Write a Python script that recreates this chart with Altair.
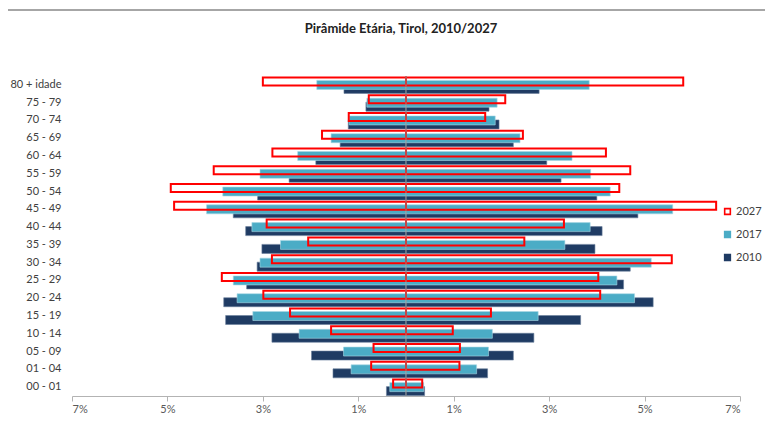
import altair as alt
import pandas as pd

ages = ["80 + idade", "75 - 79", "70 - 74", "65 - 69", "60 - 64", "55 - 59",
        "50 - 54", "45 - 49", "40 - 44", "35 - 39", "30 - 34", "25 - 29",
        "20 - 24", "15 - 19", "10 - 14", "05 - 09", "01 - 04", "00 - 01"]
series = ["2027", "2017", "2010"]

# left side (percent of population)
left_2010 = [1.30, 0.84, 1.21, 1.38, 1.89, 2.45, 3.11, 3.62, 3.36, 3.02, 3.12, 3.34, 3.82, 3.78, 2.81, 1.98, 1.53, 0.41]
left_2017 = [1.87, 0.82, 1.19, 1.57, 2.27, 3.06, 3.84, 4.18, 3.23, 2.63, 3.06, 3.62, 3.54, 3.21, 2.24, 1.31, 1.15, 0.34]
left_2027 = [3.00, 0.78, 1.20, 1.76, 2.80, 4.03, 4.93, 4.86, 2.92, 2.05, 2.81, 3.86, 2.99, 2.43, 1.57, 0.68, 0.73, 0.27]
# right side
right_2010 = [2.79, 1.74, 1.95, 2.25, 2.95, 3.25, 4.00, 4.86, 4.11, 3.96, 4.70, 4.56, 5.18, 3.66, 2.68, 2.25, 1.71, 0.39]
right_2017 = [3.84, 1.91, 1.87, 2.39, 3.48, 3.87, 4.28, 5.59, 3.86, 3.33, 5.14, 4.42, 4.79, 2.77, 1.81, 1.73, 1.48, 0.37]
right_2027 = [5.81, 2.08, 1.66, 2.45, 4.19, 4.70, 4.47, 6.50, 3.31, 2.48, 5.57, 4.03, 4.07, 1.78, 0.98, 1.13, 1.12, 0.34]

tick_values = [-7, -5, -3, -1, 1, 3, 5, 7]

rows = []
for s, lv, rv in [("2010", left_2010, right_2010),
                  ("2017", left_2017, right_2017),
                  ("2027", left_2027, right_2027)]:
    for a, l, r in zip(ages, lv, rv):
        rows.append({"age": a, "series": s, "value": -l})
        rows.append({"age": a, "series": s, "value": r})
df = pd.DataFrame(rows)

FONT = "Lato"
NAVY = "#1F3B63"
AQUA = "#4BACC6"
RED = "#FF0000"

x_enc = alt.X("value:Q",
              scale=alt.Scale(domain=[-7, 7], nice=False, zero=False),
              axis=alt.Axis(values=tick_values, labelExpr="abs(datum.value) + '%'",
                            title=None, grid=False, domainColor="#b3b3b3",
                            tickColor="#b3b3b3", tickSize=5, labelColor="#595959",
                            labelFontSize=11, labelFont=FONT, labelPadding=2))
y_enc = alt.Y("age:N", sort=ages,
              scale=alt.Scale(domain=ages, paddingInner=0, paddingOuter=0),
              axis=alt.Axis(title=None, domain=False, ticks=False, labelPadding=11,
                            labelFontSize=11, labelFont=FONT, labelColor="#404040"))

legend = alt.Legend(title=None, orient="none", legendX=650, legendY=130,
                    symbolType="square", symbolSize=32, symbolStrokeWidth=1.6,
                    labelFont=FONT, labelFontSize=11, labelColor="#404040",
                    rowPadding=10, labelOffset=3, padding=0)
fill_enc = alt.Fill("series:N",
                    scale=alt.Scale(domain=series, range=["transparent", AQUA, NAVY]),
                    legend=legend)
stroke_enc = alt.Stroke("series:N",
                        scale=alt.Scale(domain=series, range=[RED, AQUA, NAVY]),
                        legend=legend)

base = alt.Chart(df)

b2010 = base.transform_filter(alt.datum.series == "2010").mark_bar(
    height=9, yOffset=4, stroke="#6a7f9c", strokeWidth=0.6).encode(
    x=x_enc, x2=alt.datum(0), y=y_enc, fill=fill_enc)
b2017 = base.transform_filter(alt.datum.series == "2017").mark_bar(
    height=9, yOffset=0, stroke="#a9d7e4", strokeWidth=0.6).encode(
    x=x_enc, x2=alt.datum(0), y=y_enc, fill=fill_enc)
b2027 = base.transform_filter(alt.datum.series == "2027").mark_bar(
    height=8, yOffset=-3.5, strokeWidth=2).encode(
    x=x_enc, x2=alt.datum(0), y=y_enc, fill=fill_enc, stroke=stroke_enc)

zero_line = alt.Chart(alt.Data(values=[{}])).mark_rule(
    color="#8c8c8c", strokeWidth=1).encode(x=alt.datum(0))

top_line = alt.Chart(alt.Data(values=[{}])).mark_rule(
    color="#a6a6a6", strokeWidth=2).encode(
    x=alt.value(-67), x2=alt.value(693), y=alt.value(-66))

chart = alt.layer(b2010, b2017, b2027, zero_line, top_line).properties(
    width=668, height=320,
    autosize=alt.AutoSizeParams(type="none"),
    padding={"left": 64, "top": 68, "right": 25, "bottom": 17},
    title=alt.TitleParams("Pirâmide Etária, Tirol, 2010/2027", font=FONT,
                          fontSize=13, fontWeight="bold", color="#222222",
                          baseline="bottom", offset=0, dy=40, dx=-5),
).configure_view(stroke=None)

chart.save("out.html", embed_options={"renderer": "svg", "actions": False})
